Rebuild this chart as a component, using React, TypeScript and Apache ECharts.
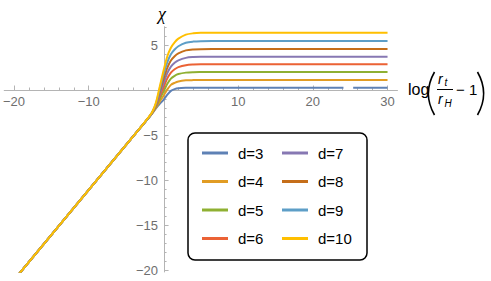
import React, { useEffect, useRef } from 'react';
import * as echarts from 'echarts';

// x positions (log(r_t/r_H - 1)) at which the curves were read
const xs = [-20, -10, -5, -3, -2, -1.5, -1, -0.5, 0, 0.5, 1, 1.5, 2, 3, 4, 5, 8, 24.1, 24.7, 25.4, 30];

// chi values, one list per d
const d3 = [-21.1, -11.1, -6.1, -4.1, -3.1, -2.6, -2.05, -1.55, -1.1, -0.55, -0.1, 0.1, 0.2, 0.25, 0.26, 0.26, 0.26, 0.26, null, 0.26, 0.26];
const d4 = [-21.1, -11.1, -6.1, -4.1, -3.1, -2.58, -1.96, -1.29, -0.66, 0.04, 0.57, 0.8, 0.95, 1.07, 1.1, 1.11, 1.11, 1.11, 1.11, 1.11, 1.11];
const d5 = [-21.1, -11.1, -6.1, -4.1, -3.1, -2.56, -1.86, -1.01, -0.19, 0.66, 1.27, 1.58, 1.77, 1.93, 1.98, 1.99, 2.0, 2.0, 2.0, 2.0, 2.0];
const d6 = [-21.1, -11.1, -6.1, -4.1, -3.1, -2.54, -1.77, -0.74, 0.26, 1.26, 1.94, 2.3, 2.54, 2.76, 2.83, 2.85, 2.86, 2.86, 2.86, 2.86, 2.86];
const d7 = [-21.1, -11.1, -6.1, -4.1, -3.1, -2.52, -1.68, -0.48, 0.7, 1.84, 2.6, 3.03, 3.3, 3.57, 3.66, 3.69, 3.7, 3.7, 3.7, 3.7, 3.7];
const d8 = [-21.1, -11.1, -6.1, -4.1, -3.1, -2.5, -1.59, -0.21, 1.2, 2.44, 3.28, 3.76, 4.07, 4.4, 4.51, 4.54, 4.56, 4.56, 4.56, 4.56, 4.56];
const d9 = [-21.1, -11.1, -6.1, -4.1, -3.1, -2.47, -1.5, 0.06, 1.7, 3.05, 3.97, 4.5, 4.86, 5.25, 5.38, 5.42, 5.44, 5.44, 5.44, 5.44, 5.44];
const d10 = [-21.1, -11.1, -6.1, -4.1, -3.05, -2.45, -1.4, 0.35, 2.1, 3.7, 4.7, 5.3, 5.7, 6.15, 6.3, 6.35, 6.37, 6.37, 6.37, 6.37, 6.37];

const seriesNames = ['d=3', 'd=4', 'd=5', 'd=6', 'd=7', 'd=8', 'd=9', 'd=10'];
const seriesValues = [d3, d4, d5, d6, d7, d8, d9, d10];
const colors = ['#5E81B5', '#E19C24', '#8FB032', '#EB6235', '#8778B3', '#C56E1A', '#5D9EC7', '#FFBF00'];

// ticks
const xMajorTicks = [-20, -10, 0, 10, 20, 30];
const xTickLabels = [-20, -10, 10, 20, 30];
const xMinorTicks = [-20, -18, -16, -14, -12, -10, -8, -6, -4, -2, 0, 2, 4, 6, 8, 10, 12, 14, 16, 18, 20, 22, 24, 26, 28, 30];
const yMajorTicks = [-20, -15, -10, -5, 0, 5];
const yTickLabels = [-20, -15, -10, -5, 5];
const yMinorTicks = [-20, -19, -18, -17, -16, -15, -14, -13, -12, -11, -10, -9, -8, -7, -6, -5, -4, -3, -2, -1, 0, 1, 2, 3, 4, 5, 6, 7];

const FONT = "'Liberation Sans', Arial, sans-serif";
const AXIS_COLOR = '#b4b4b4';
const LABEL_COLOR = '#6e6e6e';

const fmt = (v: number) => (v < 0 ? '\u2212' + Math.abs(v) : String(v));

export default function App() {
  const ref = useRef<HTMLDivElement>(null);

  useEffect(() => {
    if (!ref.current) return;
    const chart = echarts.init(ref.current, undefined, { renderer: 'svg' });

    const W = 491;
    const H = 281;
    const grid = { left: 2.75, right: 93.75, top: 27, bottom: 9.2 };
    const xMin = -21.3;
    const xMax = 31.3;
    const yMin = -20.2;
    const yMax = 7;
    const plotW = W - grid.left - grid.right;
    const plotH = H - grid.top - grid.bottom;
    // axes cross at the origin
    const xAxisOffset = -(plotH * (0 - yMin)) / (yMax - yMin);
    const yAxisOffset = -(plotW * (0 - xMin)) / (xMax - xMin);

    const xAxisBase = (ticks: number[], len: number, labels: boolean) => ({
      type: 'value', min: xMin, max: xMax, position: 'bottom', offset: xAxisOffset,
      axisLine: { show: true, onZero: false, lineStyle: { color: AXIS_COLOR, width: 1 } },
      axisTick: { show: true, inside: true, length: len, customValues: ticks, lineStyle: { color: AXIS_COLOR } },
      axisLabel: labels
        ? { show: true, customValues: xTickLabels, formatter: fmt, margin: 5, color: LABEL_COLOR, fontSize: 13, fontFamily: FONT }
        : { show: false },
      splitLine: { show: false },
    });
    const yAxisBase = (ticks: number[], len: number, labels: boolean) => ({
      type: 'value', min: yMin, max: yMax, position: 'left', offset: yAxisOffset,
      axisLine: { show: true, onZero: false, lineStyle: { color: AXIS_COLOR, width: 1 } },
      axisTick: { show: true, inside: true, length: len, customValues: ticks, lineStyle: { color: AXIS_COLOR } },
      axisLabel: labels
        ? { show: true, customValues: yTickLabels, formatter: fmt, margin: 6, color: LABEL_COLOR, fontSize: 13, fontFamily: FONT }
        : { show: false },
      splitLine: { show: false },
    });

    const option: any = {
      animation: false,
      grid: { ...grid, containLabel: false },
      xAxis: [xAxisBase(xMinorTicks, 2.5, true), xAxisBase(xMajorTicks, 4.5, false)],
      yAxis: [yAxisBase(yMinorTicks, 2.5, true), yAxisBase(yMajorTicks, 4.5, false)],
      legend: [0, 1].map((col) => ({
        data: seriesNames.slice(col * 4, col * 4 + 4),
        orient: 'vertical',
        left: col === 0 ? 202 : 282,
        top: 145,
        padding: 0,
        itemWidth: 26,
        itemHeight: 3,
        itemGap: 12.5,
        icon: 'rect',
        selectedMode: false,
        textStyle: { fontSize: 15, color: '#000', fontFamily: FONT, lineHeight: 16, padding: [0, 0, 0, 5] },
        z: 5,
      })),
      series: seriesNames.map((name, i) => ({
        name,
        type: 'line',
        xAxisIndex: 0,
        yAxisIndex: 0,
        data: xs.map((x, j) => [x, seriesValues[i][j] === null ? '-' : seriesValues[i][j]]),
        showSymbol: false,
        symbol: 'none',
        smooth: 0.3,
        connectNulls: false,
        clip: true,
        lineStyle: { color: colors[i], width: 2 },
        itemStyle: { color: colors[i] },
        z: 2,
      })),
      graphic: [
        {
          type: 'rect', z: 3,
          shape: { x: 188, y: 133, width: 179, height: 127, r: 7 },
          style: { fill: '#ffffff', stroke: '#000000', lineWidth: 1.5 },
        },
        {
          type: 'text', x: 162, y: 14,
          style: { text: '\u03c7', font: "italic 18px 'Liberation Serif', serif", fill: '#000', textAlign: 'center', textVerticalAlign: 'middle' },
        },
        {
          type: 'text', x: 408, y: 89.5,
          style: { text: 'log', font: `16px ${FONT}`, fill: '#000', textAlign: 'left', textVerticalAlign: 'middle' },
        },
        {
          type: 'bezierCurve',
          shape: { x1: 434.5, y1: 72, cpx1: 426.5, cpy1: 86, cpx2: 426.5, cpy2: 101, x2: 434.5, y2: 115 },
          style: { stroke: '#000', lineWidth: 1.6, fill: 'none' },
        },
        {
          type: 'text', x: 438, y: 79,
          style: { text: 'r', font: `italic 14px ${FONT}`, fill: '#000', textAlign: 'left', textVerticalAlign: 'middle' },
        },
        {
          type: 'text', x: 444.5, y: 82.5,
          style: { text: 't', font: `italic 10px ${FONT}`, fill: '#000', textAlign: 'left', textVerticalAlign: 'middle' },
        },
        {
          type: 'line',
          shape: { x1: 437, y1: 89.5, x2: 453, y2: 89.5 },
          style: { stroke: '#000', lineWidth: 1 },
        },
        {
          type: 'text', x: 438, y: 99,
          style: { text: 'r', font: `italic 14px ${FONT}`, fill: '#000', textAlign: 'left', textVerticalAlign: 'middle' },
        },
        {
          type: 'text', x: 444.5, y: 103.5,
          style: { text: 'H', font: `italic 10px ${FONT}`, fill: '#000', textAlign: 'left', textVerticalAlign: 'middle' },
        },
        {
          type: 'text', x: 456, y: 89.5,
          style: { text: '\u2212 1', font: `15px ${FONT}`, fill: '#000', textAlign: 'left', textVerticalAlign: 'middle' },
        },
        {
          type: 'bezierCurve',
          shape: { x1: 477.5, y1: 72, cpx1: 485.5, cpy1: 86, cpx2: 485.5, cpy2: 101, x2: 477.5, y2: 115 },
          style: { stroke: '#000', lineWidth: 1.6, fill: 'none' },
        },
      ],
    };

    chart.setOption(option);
    return () => chart.dispose();
  }, []);

  return (
    <div
      ref={ref}
      style={{ position: 'absolute', left: 0, top: 0, width: 491, height: 281, background: '#fff' }}
    />
  );
}
